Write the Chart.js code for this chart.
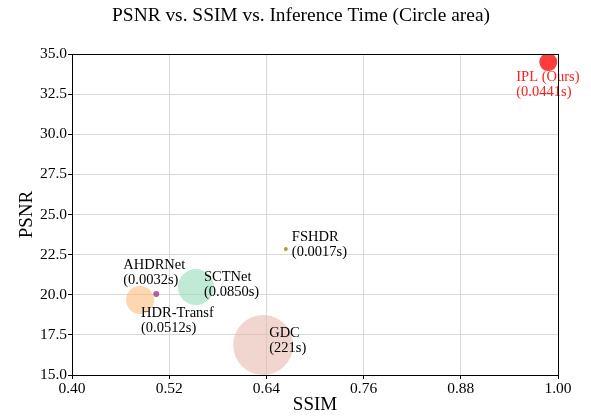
<!DOCTYPE html>
<html>
<head>
<meta charset="utf-8">
<script src="https://cdn.jsdelivr.net/npm/chart.js@4.4.0/dist/chart.umd.min.js"></script>
<style>
  html, body { margin: 0; padding: 0; background: #fff; }
  #wrap { width: 591px; height: 419px; }
</style>
</head>
<body>
<div id="wrap"><canvas id="myChart"></canvas></div>
<script>
// methods and their numbers
const methods = ['IPL (Ours)', 'FSHDR', 'AHDRNet', 'SCTNet', 'HDR-Transf', 'GDC'];
const times = ['0.0441s', '0.0017s', '0.0032s', '0.0850s', '0.0512s', '221s'];
const ssim = [0.988, 0.664, 0.504, 0.553, 0.484, 0.636];
const psnr = [34.5, 22.85, 20.05, 20.48, 19.67, 16.87];
const bubbleSize = [9, 2, 3, 18, 14, 30];
const xTicks = [0.40, 0.52, 0.64, 0.76, 0.88, 1.00];
const yTicks = [15.0, 17.5, 20.0, 22.5, 25.0, 27.5, 30.0, 32.5, 35.0];
const chartTitle = 'PSNR vs. SSIM vs. Inference Time (Circle area)';

const colors = [
  'rgba(255, 40, 40, 0.9)',
  'rgba(160, 150, 40, 0.9)',
  'rgba(150, 60, 140, 0.8)',
  'rgba(150, 220, 185, 0.6)',
  'rgba(253, 180, 110, 0.55)',
  'rgba(230, 180, 170, 0.55)'
];
const labelColors = ['#ff2020', '#000', '#000', '#000', '#000', '#000'];
// label offsets in px from the point (left edge, first line centre)
const labelOffset = [[-32, 15], [6, -12], [-33, -29], [8, -10], [1, 13], [6, -12]];

const serif = "'Liberation Serif', 'Times New Roman', serif";

const datasets = methods.map((m, i) => ({
  label: m,
  data: [{x: ssim[i], y: psnr[i], r: bubbleSize[i]}],
  backgroundColor: colors[i],
  borderWidth: 0
}));
// draw big ones first so small dots stay on top
datasets.reverse();

// frame round the plot + the figure title (centred on the figure like matplotlib)
const boxPlugin = {
  id: 'box',
  afterDraw(chart) {
    const c = chart.ctx, a = chart.chartArea;
    c.save();
    c.strokeStyle = '#000';
    c.lineWidth = 1;
    c.strokeRect(a.left + 0.5, a.top + 0.5, a.right - a.left, a.bottom - a.top);
    c.fillStyle = '#000';
    c.font = '19.4px ' + serif;
    c.textAlign = 'center';
    c.textBaseline = 'middle';
    c.fillText(chartTitle, 301, 16);
    c.restore();
  }
};

const labelPlugin = {
  id: 'labels',
  afterDatasetsDraw(chart) {
    const c = chart.ctx;
    const xs = chart.scales.x, ys = chart.scales.y;
    c.save();
    c.font = '14.5px ' + serif;
    c.textAlign = 'left';
    c.textBaseline = 'middle';
    methods.forEach((m, i) => {
      const px = xs.getPixelForValue(ssim[i]) + labelOffset[i][0];
      const py = ys.getPixelForValue(psnr[i]) + labelOffset[i][1];
      c.fillStyle = labelColors[i];
      c.fillText(m, px, py);
      c.fillText('(' + times[i] + ')', px, py + 15.5);
    });
    c.restore();
  }
};

new Chart(document.getElementById('myChart'), {
  type: 'bubble',
  data: { datasets: datasets },
  options: {
    responsive: true,
    maintainAspectRatio: false,
    animation: false,
    layout: { padding: { left: 0, right: 33, top: 54, bottom: 0 } },
    plugins: {
      legend: { display: false },
      tooltip: { enabled: false },
      title: { display: false }
    },
    scales: {
      x: {
        type: 'linear',
        min: 0.4,
        max: 1.0,
        afterBuildTicks(s) { s.ticks = xTicks.map(v => ({value: v})); },
        afterFit(s) { s.height = 44; },
        ticks: {
          color: '#000',
          font: { family: serif, size: 15.5 },
          padding: 1,
          maxRotation: 0,
          callback: v => Number(v).toFixed(2)
        },
        grid: { color: '#d9d9d9', lineWidth: 1, tickColor: '#000', tickLength: 4 },
        border: { color: '#000', width: 1 },
        title: {
          display: true,
          text: 'SSIM',
          color: '#000',
          font: { family: serif, size: 19 },
          padding: { top: 0, bottom: 3 }
        }
      },
      y: {
        type: 'linear',
        min: 15,
        max: 35,
        afterBuildTicks(s) { s.ticks = yTicks.map(v => ({value: v})); },
        afterFit(s) { s.width = 72; },
        ticks: {
          color: '#000',
          font: { family: serif, size: 15.5 },
          padding: 1,
          callback: v => Number(v).toFixed(1)
        },
        grid: { color: '#d9d9d9', lineWidth: 1, tickColor: '#000', tickLength: 4 },
        border: { color: '#000', width: 1 },
        title: {
          display: true,
          text: 'PSNR',
          color: '#000',
          font: { family: serif, size: 19 },
          padding: { top: 16, bottom: 0 }
        }
      }
    }
  },
  plugins: [boxPlugin, labelPlugin]
});
</script>
</body>
</html>
